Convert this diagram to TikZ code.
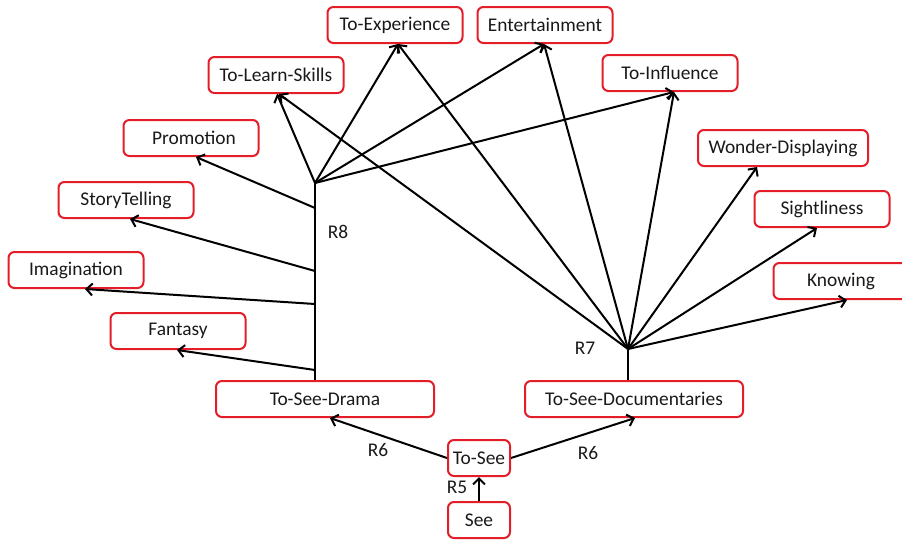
\documentclass[tikz,border=0pt]{standalone}
\usepackage{fontspec}
\setmainfont{Carlito}
\usetikzlibrary{arrows.meta,calc}
\definecolor{boxred}{RGB}{228,30,40}
\definecolor{txt}{RGB}{25,25,25}
\begin{document}
\begin{tikzpicture}[x=1pt,y=-1pt,
  box/.style={draw=boxred,line width=2pt,rounded corners=6pt,minimum height=36pt,
    inner sep=2pt,text=txt,font=\fontsize{19.4}{22}\selectfont},
  wbox/.style={box,minimum width=135pt},
  lab/.style={text=txt,font=\fontsize{19.4}{22}\selectfont,inner sep=0pt},
  conn/.style={line width=2pt,black},
  arr/.style={conn,-{Straight Barb[length=6pt,width=12pt,line width=2pt]}}]
\useasboundingbox (0,0) rectangle (902,539);
% nodes
\node[wbox] (exp) at (395,25) {To-Experience};
\node[wbox] (ent) at (545,25) {Entertainment};
\node[wbox] (tls) at (276,75) {To-Learn-Skills};
\node[wbox] (inf) at (670,73) {To-Influence};
\node[wbox] (pro) at (191,138) {\hspace*{6pt}Promotion};
\node[box,minimum width=170pt] (won) at (783,148) {Wonder-Displaying};
\node[wbox] (sto) at (126,200) {StoryTelling};
\node[wbox] (sig) at (822,209) {Sightliness};
\node[wbox] (ima) at (76,270) {Imagination};
\node[wbox] (kno) at (841,281) {Knowing};
\node[wbox] (fan) at (178,331) {Fantasy};
\node[box,minimum width=218pt] (dra) at (325,399) {To-See-Drama};
\node[box,minimum width=218pt] (doc) at (634,399) {To-See-Documentaries};
\node[box,minimum width=62pt,inner sep=1pt] (tos) at (479,458) {To-See};
\node[box,minimum width=62pt] (see) at (479,520) {See};
% junction coordinates
\coordinate (j8) at (315,183);
\coordinate (j8a) at (315,208);
\coordinate (j8b) at (315,271);
\coordinate (j8c) at (315,304);
\coordinate (j8d) at (315,370);
\coordinate (j7) at (628,349);
% R8 branches
\draw[conn] (j8) -- (j8 |- dra.north);
\draw[arr] (j8) -- ([xshift=1pt]tls.south);
\draw[arr] (j8) -- ([xshift=3pt]exp.south);
\draw[arr] (j8) -- ([xshift=-1pt]ent.south);
\draw[arr] (j8) -- ([xshift=4pt]inf.south);
\draw[arr] (j8a) -- ([xshift=5pt]pro.south);
\draw[arr] (j8b) -- ([xshift=4pt]sto.south);
\draw[arr] (j8c) -- ([xshift=9pt]ima.south);
\draw[arr] (j8d) -- ([xshift=-1pt]fan.south);
% R7 branches
\draw[conn] (j7) -- (j7 |- doc.north);
\draw[arr] (j7) -- ([xshift=3pt]tls.south);
\draw[arr] (j7) -- ([xshift=3pt]exp.south);
\draw[arr] (j7) -- ([xshift=-1pt]ent.south);
\draw[arr] (j7) -- ([xshift=4pt]inf.south);
\draw[arr] (j7) -- ([xshift=-26pt]won.south);
\draw[arr] (j7) -- ([xshift=-5pt]sig.south);
\draw[arr] (j7) -- ([xshift=6pt]kno.south);
% bottom
\draw[arr] (tos.west) -- ([xshift=5pt]dra.south);
\draw[arr] (tos.east) -- ([xshift=1pt]doc.south);
\draw[arr] (see.north) -- (tos.south);
% labels
\node[lab] (r8) at (338,232) {R8};
\node[lab] (r7) at (585,348) {R7};
\node[lab] (r6a) at (378,450) {R6};
\node[lab] (r6b) at (588,453) {R6};
\node[lab] (r5) at (457,487) {R5};
\end{tikzpicture}
\end{document}
